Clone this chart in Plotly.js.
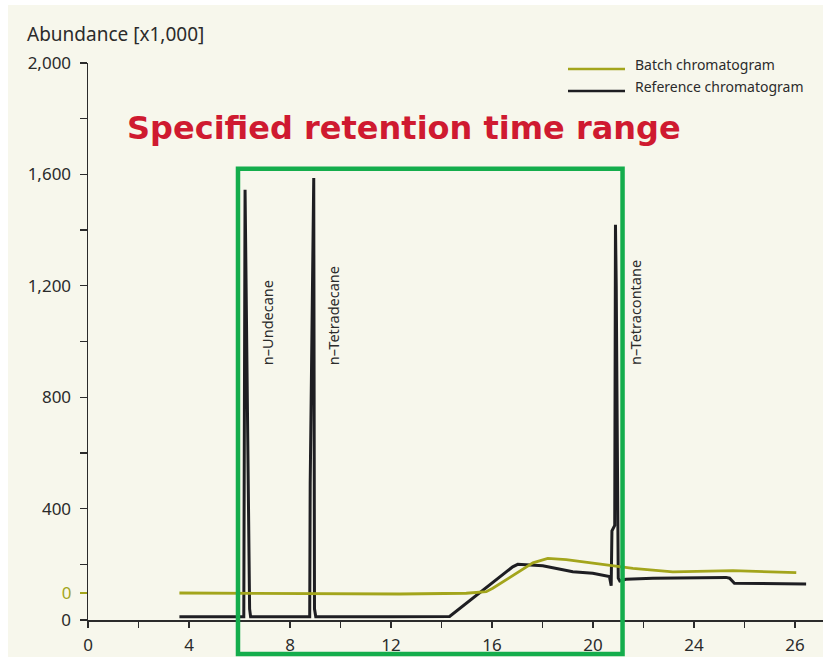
<!DOCTYPE html>
<html>
<head>
<meta charset="utf-8">
<script src="https://cdn.plot.ly/plotly-3.0.1.min.js"></script>
<style>html,body{margin:0;padding:0;background:#fff;}#chart{width:823px;height:657px;}</style>
</head>
<body>
<div id="chart"></div>
<script>
// Retention time (min) and abundance (x1,000)
const refName = 'Reference chromatogram';
const refX = [3.62, 6.17, 6.22, 6.37, 6.40, 6.44, 8.78, 8.80, 8.94, 8.97, 9.02, 12.0, 14.32, 16.82, 17.02, 18.01, 19.2, 19.99, 20.65, 20.72, 20.75, 20.86, 20.89, 20.92, 20.95, 21.00, 21.06, 21.3, 22.37, 25.27, 25.41, 25.6, 28.44];
const refY = [12, 12, 1545, 456, 40, 12, 12, 492, 1587, 40, 12, 12, 13, 191, 200, 195, 173, 168, 156, 123, 320, 340, 1419, 1200, 862, 150, 140, 146, 150, 153, 150, 132, 129];

const batchName = 'Batch chromatogram';
const batchX = [3.62, 6.0, 8.8, 10.0, 12.34, 14.98, 15.77, 16.03, 16.96, 17.62, 17.88, 18.21, 18.94, 19.6, 20.92, 21.58, 23.16, 25.54, 28.05];
const batchY = [0, -1, -4, -4, -3.6, -1, 4.7, 17, 71, 108, 115, 124, 120, 112, 97, 88, 76, 80, 73];

const peakNames = ['n–Undecane', 'n–Tetradecane', 'n–Tetracontane'];
const peakLabelX = [7.07, 9.69, 21.64];
const peakLabelY = [908, 908, 908];

const rangeStart = 5.94, rangeEnd = 21.17, rangeTop = 1620;

const xTickVals = [0, 4, 8, 12, 16, 20, 24, 28];
const xTickText = ['0', '4', '8', '12', '16', '20', '24', '26'];
const yTickVals = [0, 400, 800, 1200, 1600, 2000];
const yTickText = ['0', '400', '800', '1,200', '1,600', '2,000'];
const batchOffset = 97;

const olive = '#a3a51c';
const dark = '#1e1e22';
const txt = '#2b2b2b';
const bg = '#f7f7ec';
const green = '#14ad4c';

const L = 88, T = 63, B = 37, W = 823, H = 657;
const pw = W - L, ph = H - T - B;
const px = v => (v - L) / pw;
const py = v => (H - B - v) / ph;

const traces = [
  {x: refX, y: refY, name: refName, type: 'scatter', mode: 'lines', yaxis: 'y',
   line: {color: dark, width: 3}, showlegend: false, hoverinfo: 'x+y+name'},
  {x: batchX, y: batchY, name: batchName, type: 'scatter', mode: 'lines', yaxis: 'y2',
   line: {color: olive, width: 2.8}, showlegend: false, hoverinfo: 'x+y+name'}
];

const tickFont = {family: 'Noto Sans, sans-serif', size: 17, color: txt};

const layout = {
  width: W, height: H,
  margin: {l: L, r: 0, t: T, b: B, pad: 0},
  paper_bgcolor: '#ffffff',
  plot_bgcolor: 'rgba(0,0,0,0)',
  showlegend: false,
  xaxis: {
    range: [0, pw / 25.25], showgrid: false, zeroline: false,
    showline: true, linecolor: txt, linewidth: 1.5,
    ticks: 'outside', ticklen: 6, tickwidth: 1.3, tickcolor: txt,
    tickvals: xTickVals, ticktext: xTickText, tickfont: tickFont,
    ticklabelstandoff: 3,
    minor: {dtick: 2, tick0: 0, ticks: 'outside', ticklen: 6, tickwidth: 1.3, tickcolor: txt, showgrid: false}
  },
  yaxis: {
    range: [0, 2000], showgrid: false, zeroline: false,
    showline: true, linecolor: txt, linewidth: 1.5,
    ticks: 'outside', ticklen: 7, tickwidth: 1.3, tickcolor: txt,
    tickvals: yTickVals, ticktext: yTickText, tickfont: tickFont,
    ticklabelstandoff: 5,
    minor: {dtick: 200, tick0: 0, ticks: 'outside', ticklen: 7, tickwidth: 1.3, tickcolor: txt, showgrid: false}
  },
  yaxis2: {
    overlaying: 'y', anchor: 'x', side: 'left',
    range: [-batchOffset, 2000 - batchOffset],
    showgrid: false, zeroline: false, showline: false,
    ticks: 'outside', ticklen: 7, tickwidth: 1.3, tickcolor: olive,
    tickvals: [0], ticktext: ['0'],
    tickfont: {family: 'Noto Sans, sans-serif', size: 17, color: olive},
    ticklabelstandoff: 5
  },
  shapes: [
    {type: 'rect', xref: 'paper', yref: 'paper', x0: px(8), x1: 1, y0: py(H), y1: py(5),
     fillcolor: bg, line: {width: 0}, layer: 'below'},
    {type: 'rect', xref: 'x', yref: 'paper', x0: rangeStart, x1: rangeEnd,
     y0: py(654), y1: (rangeTop / 2000), line: {color: green, width: 4.5}, fillcolor: 'rgba(0,0,0,0)', layer: 'above'},
    {type: 'line', xref: 'paper', yref: 'paper', x0: px(568), x1: px(625), y0: py(69), y1: py(69),
     line: {color: olive, width: 2.5}},
    {type: 'line', xref: 'paper', yref: 'paper', x0: px(568), x1: px(625), y0: py(91), y1: py(91),
     line: {color: dark, width: 2.5}}
  ],
  annotations: [
    {text: 'Abundance [x1,000]', xref: 'paper', yref: 'paper', x: px(25), y: py(34),
     xanchor: 'left', yanchor: 'middle', showarrow: false,
     font: {family: 'Noto Sans, sans-serif', size: 19, color: txt}},
    {text: '<b>Specified retention time range</b>', xref: 'paper', yref: 'paper', x: px(403.5), y: py(128),
     xanchor: 'center', yanchor: 'middle', showarrow: false,
     font: {family: 'DejaVu Sans, sans-serif', size: 32, color: '#cf1a30'}},
    {text: batchName, xref: 'paper', yref: 'paper', x: px(633), y: py(65),
     xanchor: 'left', yanchor: 'middle', showarrow: false,
     font: {family: 'Noto Sans, sans-serif', size: 14, color: txt}},
    {text: refName, xref: 'paper', yref: 'paper', x: px(633), y: py(87),
     xanchor: 'left', yanchor: 'middle', showarrow: false,
     font: {family: 'Noto Sans, sans-serif', size: 14, color: txt}}
  ].concat(peakNames.map((n, i) => ({
     text: n, xref: 'x', yref: 'y', x: peakLabelX[i], y: peakLabelY[i],
     xanchor: 'center', yanchor: 'bottom', textangle: -90, showarrow: false,
     font: {family: 'Noto Sans, sans-serif', size: 14.5, color: txt}
  })))
};

Plotly.newPlot('chart', traces, layout, {displayModeBar: false, staticPlot: true});
</script>
</body>
</html>
